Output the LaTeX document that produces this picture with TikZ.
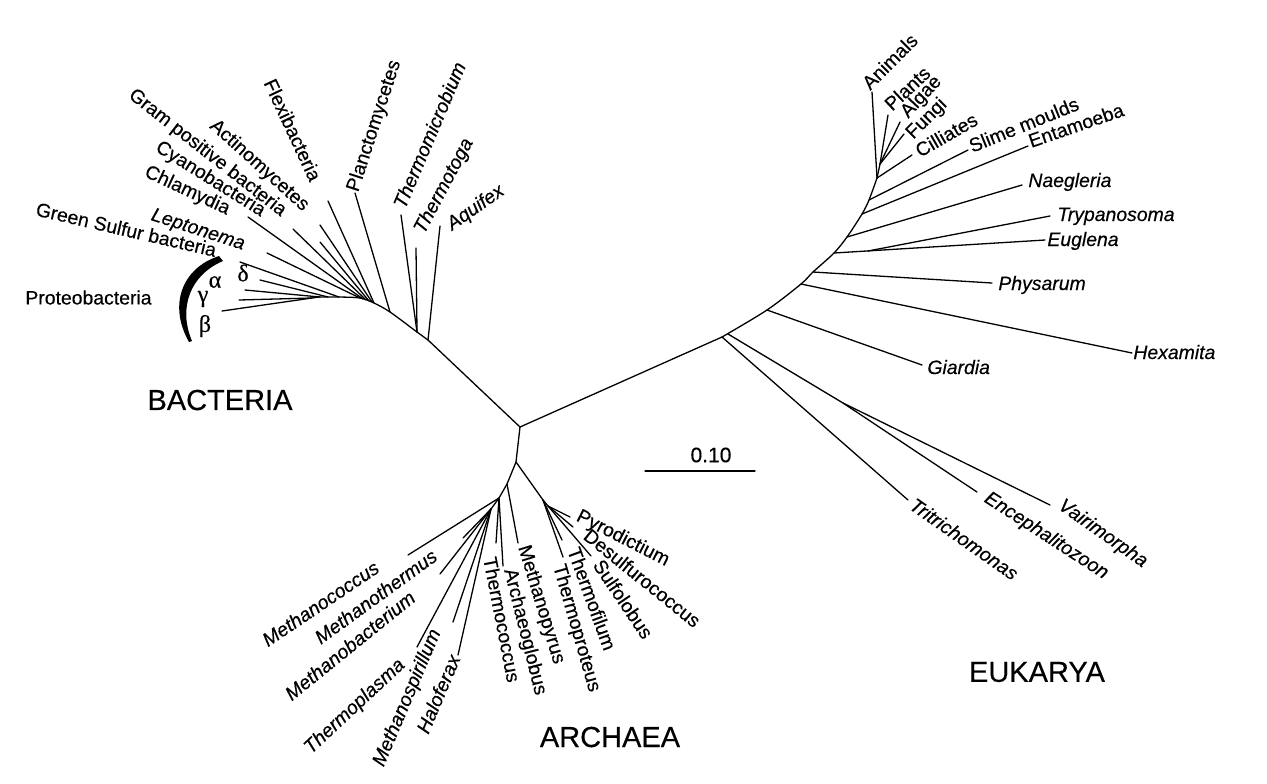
\documentclass[tikz,border=0pt]{standalone}
\usepackage{fontspec}
\setmainfont{Liberation Sans}[FakeBold=0.35]
\newfontfamily\grkfont{Liberation Serif}[FakeBold=0.35]
\begin{document}
\begin{tikzpicture}[x=0.5pt,y=-0.5pt,
  br/.style={line width=0.65pt, line cap=round, line join=round},
  lab/.style={inner sep=0pt, font=\fontsize{9.7}{11}\selectfont},
  ilab/.style={inner sep=0pt, font=\fontsize{9.7}{11}\selectfont\itshape},
  dom/.style={inner sep=0pt, font=\fontsize{14.5}{16}\selectfont},
  grk/.style={inner sep=0pt, font=\fontsize{12}{14}\grkfont}]
\useasboundingbox (0,0) rectangle (1267,783);
\fill[white] (0,0) rectangle (1267,783);

% ---------- root ----------
\coordinate (R) at (520,427);

% ---------- bacteria ----------
\coordinate (bAq) at (428,340);
\coordinate (bTt) at (417,332);
\coordinate (bPl) at (390,312);
\coordinate (bFl) at (374,303);
\coordinate (bAc) at (372,302);
\coordinate (bGp) at (369,301);
\coordinate (bCy) at (366,300);
\coordinate (bCh) at (363,299);
\coordinate (bLe) at (360,298);
\coordinate (bGs) at (339,297);
\coordinate (bDe) at (328,297);
\coordinate (bAl) at (320,297);
\coordinate (bGa) at (312,298);
\coordinate (tAq) at (440,226);
\coordinate (tTt) at (416,248);
\coordinate (tTm) at (401,215);
\coordinate (tPl) at (355,193);
\coordinate (tFl) at (328,201);
\coordinate (tAc) at (320,225);
\coordinate (tGp) at (320,242);
\coordinate (tCy) at (293,229);
\coordinate (tCh) at (248,217);
\coordinate (tLe) at (267,253);
\coordinate (tGs) at (240,262);
\coordinate (tDe) at (260,280);
\coordinate (tAl) at (245,290);
\coordinate (tGa) at (239,300);
\coordinate (tBe) at (222,311);

\draw[br] (R) -- (bAq);
\draw[br] plot[smooth, tension=0.5] coordinates {(bAq) (bTt) (bPl) (bFl) (bLe) (bGs) (bAl) (bGa) (tBe)};
\draw[br] (bAq) -- (tAq);
\draw[br] (bTt) -- (tTt);
\draw[br] (bTt) -- (tTm);
\draw[br] (bPl) -- (tPl);
\draw[br] (bFl) -- (tFl);
\draw[br] (bAc) -- (tAc);
\draw[br] (bGp) -- (tGp);
\draw[br] (bCy) -- (tCy);
\draw[br] (bCh) -- (tCh);
\draw[br] (bLe) -- (tLe);
\draw[br] (bGs) -- (tGs);
\draw[br] (bDe) -- (tDe);
\draw[br] (bAl) -- (tAl);
\draw[br] (bGa) -- (tGa);

% ---------- archaea ----------
\coordinate (A1) at (516,462);
\coordinate (A2) at (507,484);
\coordinate (A3) at (499,498);
\coordinate (A4) at (491,509);
\coordinate (C1) at (543,500);
\coordinate (C2) at (548,506);
\coordinate (tMc) at (408,555);
\coordinate (tMt) at (463,538);
\coordinate (tMb) at (440,574);
\coordinate (tTp) at (417,647);
\coordinate (tMs) at (453,622);
\coordinate (tHf) at (458,655);
\coordinate (tTc) at (496,543);
\coordinate (tAg) at (503,566);
\coordinate (tMp) at (518,543);
\coordinate (tTpr) at (563,557);
\coordinate (tTf) at (562,540);
\coordinate (tPy) at (570,517);
\coordinate (tDs) at (573,527);
\coordinate (tSu) at (591,556);

\draw[br] (R) -- (A1) -- (A2) -- (A3) -- (A4);
\draw[br] (A1) -- (C1) -- (C2);
\draw[br] (A2) -- (tMp);
\draw[br] (A3) -- (tMc);
\draw[br] (A3) -- (tTc);
\draw[br] (A3) -- (tAg);
\draw[br] (A4) -- (tMt);
\draw[br] (A4) -- (tMb);
\draw[br] (A4) -- (tTp);
\draw[br] (A4) -- (tMs);
\draw[br] (A4) -- (tHf);
\draw[br] (C1) -- (tTpr);
\draw[br] (C1) -- (tTf);
\draw[br] (C2) -- (tPy);
\draw[br] (C2) -- (tDs);
\draw[br] (C2) -- (tSu);

% ---------- eukarya ----------
\coordinate (E0) at (722,337);
\coordinate (E1) at (728,334);
\coordinate (eGi) at (767,310);
\coordinate (eHx) at (801,284);
\coordinate (ePh) at (813,272);
\coordinate (eEu) at (834,253);
\coordinate (eNa) at (847,237);
\coordinate (eEn) at (862,214);
\coordinate (eSm) at (869,200);
\coordinate (eCr) at (877,178);
\coordinate (eCr2) at (880,164);
\coordinate (eTy) at (868,251);
\coordinate (eMi) at (843,403);
\coordinate (tGi) at (922,365);
\coordinate (tHx) at (1132,353);
\coordinate (tPh) at (992,283);
\coordinate (tEu) at (1045,240);
\coordinate (tTy) at (1050,216);
\coordinate (tNa) at (1022,185);
\coordinate (tEn) at (1028,146);
\coordinate (tSm) at (968,150);
\coordinate (tCi) at (912,155);
\coordinate (tFu) at (904,134);
\coordinate (tAlg) at (900,122);
\coordinate (tPlt) at (888,115);
\coordinate (tAn) at (872,92);
\coordinate (tTr) at (908,500);
\coordinate (tEc) at (977,492);
\coordinate (tVa) at (1050,505);

\draw[br] (R) -- (E0);
\draw[br] plot[smooth, tension=0.5] coordinates {(E0) (eGi) (eHx) (ePh) (eEu) (eNa) (eEn) (eSm) (eCr)};
\draw[br] (eCr) -- (tAn);
\draw[br] (eCr) -- (eCr2);
\draw[br] (eCr2) -- (tPlt);
\draw[br] (eCr2) -- (tAlg);
\draw[br] (eCr2) -- (tFu);
\draw[br] (eCr) -- (tCi);
\draw[br] (eSm) -- (tSm);
\draw[br] (eEn) -- (tEn);
\draw[br] (eNa) -- (tNa);
\draw[br] (eEu) -- (tEu);
\draw[br] (eTy) -- (tTy);
\draw[br] (ePh) -- (tPh);
\draw[br] (eHx) -- (tHx);
\draw[br] (eGi) -- (tGi);
\draw[br] (E0) -- (tTr);
\draw[br] (E1) -- (eMi) -- (tVa);
\draw[br] (eMi) -- (tEc);

% ---------- bacteria labels ----------
\node[lab, rotate=-13, anchor=base east] (lGs) at (215,257) {Green Sulfur bacteria};
\node[ilab, rotate=-18, anchor=base east] (lLe) at (243,250) {Leptonema};
\node[lab, rotate=-25, anchor=base east] (lCh) at (227,215) {Chlamydia};
\node[lab, rotate=-32, anchor=base east] (lCy) at (261,217) {Cyanobacteria};
\node[lab, rotate=-38, anchor=base east] (lGp) at (281,217) {Gram positive bacteria};
\node[lab, rotate=-42, anchor=base east] (lAc) at (303,212) {Actinomycetes};
\node[lab, rotate=-65, anchor=base east] (lFl) at (310,183) {Flexibacteria};
\node[lab, rotate=72, anchor=base west] (lPl) at (358,193) {Planctomycetes};
\node[ilab, rotate=67, anchor=base west] (lTm) at (405,210) {Thermomicrobium};
\node[ilab, rotate=62, anchor=base west] (lTt) at (424,235) {Thermotoga};
\node[ilab, rotate=35, anchor=base west] (lAq) at (452,231) {Aquifex};
\node[lab, anchor=west] (lPr) at (25,297.5) {Proteobacteria};

\fill (219,256) .. controls (182,268) and (168,305) .. (189,342)
  -- (192,341) .. controls (178,308) and (190,275) .. (223,261) -- cycle;
\node[grk] (gDe) at (243,273) {δ};
\node[grk] (gAl) at (215,282) {α};
\node[grk] (gGa) at (203,299) {γ};
\node[grk] (gBe) at (205,326) {β};

% ---------- archaea labels ----------
\node[ilab, rotate=34, anchor=base east] (lMc) at (381,571) {Methanococcus};
\node[ilab, rotate=36, anchor=base east] (lMt) at (439,559) {Methanothermus};
\node[ilab, rotate=39, anchor=base east] (lMb) at (417,600) {Methanobacterium};
\node[ilab, rotate=43, anchor=base east] (lTp) at (406,666) {Thermoplasma};
\node[ilab, rotate=67, anchor=base east] (lMs) at (441,632) {Methanospirillum};
\node[ilab, rotate=67, anchor=base east] (lHf) at (461,658) {Haloferax};
\node[lab, rotate=-79, anchor=base west] (lTc) at (483,558) {Thermococcus};
\node[lab, rotate=-76, anchor=base west] (lAg) at (504,570) {Archaeoglobus};
\node[lab, rotate=-73, anchor=base west] (lMp) at (518,547) {Methanopyrus};
\node[lab, rotate=-74, anchor=base west] (lTpr) at (553,566) {Thermoproteus};
\node[lab, rotate=-70, anchor=base west] (lTf) at (567,550) {Thermofilum};
\node[lab, rotate=-56, anchor=base west] (lSu) at (592,565) {Sulfolobus};
\node[lab, rotate=-39, anchor=base west] (lDs) at (582,538) {Desulfurococcus};
\node[lab, rotate=-27, anchor=base west] (lPy) at (575,520) {Pyrodictium};

% ---------- eukarya labels ----------
\node[lab, rotate=45, anchor=base west] (lAn) at (870,91) {Animals};
\node[lab, rotate=43, anchor=base west] (lPlt) at (892,112) {Plants};
\node[lab, rotate=47, anchor=base west] (lAlg) at (908,119) {Algae};
\node[lab, rotate=45, anchor=base west] (lFu) at (913,140) {Fungi};
\node[lab, rotate=30, anchor=base west] (lCi) at (920,158) {Cilliates};
\node[lab, rotate=22, anchor=base west] (lSm) at (972,153) {Slime moulds};
\node[lab, rotate=19, anchor=base west] (lEn) at (1031,148) {Entamoeba};
\node[ilab, anchor=base west] (lNa) at (1028,187) {Naegleria};
\node[ilab, anchor=base west] (lTy) at (1057,221) {Trypanosoma};
\node[ilab, anchor=base west] (lEu) at (1047,246) {Euglena};
\node[ilab, anchor=base west] (lPh) at (998,290) {Physarum};
\node[ilab, anchor=base west] (lHx) at (1133,359) {Hexamita};
\node[ilab, anchor=base west] (lGi) at (927,374) {Giardia};
\node[ilab, rotate=-35, anchor=base west] (lTr) at (908,508) {Tritrichomonas};
\node[ilab, rotate=-33, anchor=base west] (lEc) at (983,501) {Encephalitozoon};
\node[ilab, rotate=-35, anchor=base west] (lVa) at (1057,508) {Vairimorpha};

% ---------- domains ----------
\node[dom] (dB) at (220,400) {BACTERIA};
\node[dom] (dA) at (610,737) {ARCHAEA};
\node[dom] (dE) at (1037,672) {EUKARYA};

% ---------- scale bar ----------
\coordinate (s1) at (645,471);
\coordinate (s2) at (755,471);
\draw[br] (s1) -- (s2);
\node[inner sep=0pt, font=\fontsize{10.5}{12}\selectfont] (sc) at (711,455) {0.10};
\end{tikzpicture}
\end{document}
